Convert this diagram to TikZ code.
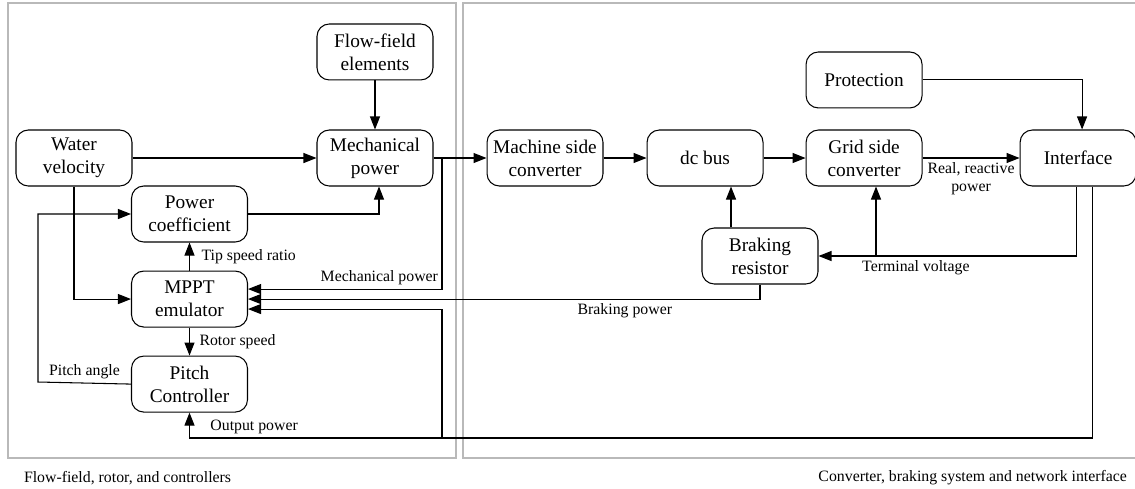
\documentclass[tikz,border=0pt]{standalone}
\usepackage{fontspec}
\setmainfont{Liberation Serif}
\usepackage{tikz}
\usetikzlibrary{arrows.meta,positioning,calc}
\tikzset{
  blk/.style={draw, rounded corners=7pt, minimum width=2.32cm, minimum height=1.12cm, inner sep=2pt, align=center, font=\fontsize{11}{13}\selectfont},
  lbl/.style={font=\fontsize{9}{10.5}\selectfont, inner sep=2pt, align=center},
  arr/.style={-{Triangle[length=2.6mm,width=2mm]}},
  panel/.style={draw=gray!55, line width=0.8pt},
}

\begin{document}
\begin{tikzpicture}[x=0.02cm, y=-0.02cm, line width=0.6pt]
  \useasboundingbox (0,0) rectangle (1135,488);

  % the two panels
  \draw[panel] (8,3) rectangle (456,458);
  \draw[panel] (463,3) rectangle (1140,458);
  \node[lbl, anchor=west] (capl) at (20,478) {Flow-field, rotor, and controllers};
  \node[lbl, anchor=east] (capr) at (1131,478) {Converter, braking system and network interface};

  % main row
  \node[blk] (water) at (74,158) {Water\\velocity};
  \node[blk, right=3.68cm of water] (mech) {Mechanical\\power};
  \node[blk, above=0.98cm of mech] (flow) {Flow-field\\elements};
  \node[blk, right=1.06cm of mech] (msc) {Machine side\\converter};
  \node[blk, right=0.86cm of msc] (dcbus) {dc bus};
  \node[blk, right=0.84cm of dcbus] (gsc) {Grid side\\converter};
  \node[blk, above=0.42cm of gsc] (prot) {Protection};
  \node[blk, right=1.94cm of gsc] (iface) {Interface};
  \node[blk] (brake) at (760,256) {Braking\\resistor};

  % control column
  \node[blk] (pcoef) at (189.5,214) {Power\\coefficient};
  \node[blk, below=0.56cm of pcoef] (mppt) {MPPT\\emulator};
  \node[blk, below=0.56cm of mppt] (pitch) {Pitch\\Controller};

  \coordinate (mj) at (442,158);
  \coordinate (ob) at (442,438);
  \coordinate (pa) at (38,382);
  \coordinate (tj) at (876,256);

  \draw[arr] (water) -- (mech);
  \draw[arr] (flow) -- (mech);
  \draw[arr] (mech) -- (msc);
  \draw[arr] (msc) -- (dcbus);
  \draw[arr] (dcbus) -- (gsc);
  \draw[arr] (gsc) -- node[lbl, below]{Real, reactive\\power} (iface);
  \draw[arr] (prot.east) -| ([xshift=0.08cm]iface.north);
  \draw[arr] (pcoef.east) -| ([xshift=0.08cm]mech.south);
  \draw[arr] (water.south) |- (mppt.west);
  \draw[arr] (pitch.west) -- node[lbl, above]{Pitch angle} (pa) |- (pcoef.west);
  \draw[arr] (mppt) -- node[lbl, right, xshift=0.16cm]{Tip speed ratio} (pcoef);
  \draw[arr] (mppt) -- node[lbl, right, xshift=0.12cm]{Rotor speed} (pitch);
  \draw[arr] (mj) |- node[lbl, above left]{Mechanical power} ([yshift=0.2cm]mppt.east);
  \draw[arr] (brake.south) |- node[lbl, below, pos=0.632]{Braking power} (mppt.east);
  \draw[arr] ([xshift=0.28cm]iface.south) |- (ob) -| node[lbl, above, pos=0.372]{Output power} (pitch.south);
  \draw[arr] (ob) |- ([yshift=-0.2cm]mppt.east);
  \draw[arr] ([xshift=-0.04cm]iface.south) |- node[lbl, below, pos=0.811]{Terminal voltage} (brake.east);
  \draw[arr] (tj) -- (tj |- gsc.south);
  \draw[arr] ([xshift=-0.58cm]brake.north) -- ([xshift=-0.58cm]brake.north |- dcbus.south);
\end{tikzpicture}
\end{document}
